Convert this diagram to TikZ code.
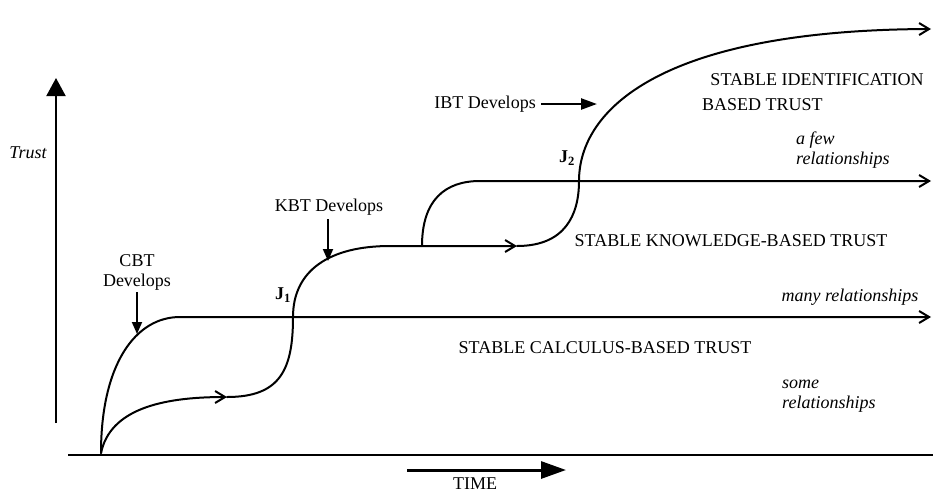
\documentclass[tikz,border=0pt]{standalone}
\usepackage{fontspec}
\setmainfont{Liberation Serif}
\usetikzlibrary{arrows.meta}
\begin{document}
\begin{tikzpicture}[x=1pt,y=-1pt,
  curve/.style={line width=2pt, line cap=round},
  barb/.style={-{Straight Barb[length=10pt,width=12pt]}},
  lbl/.style={font=\fontsize{18}{20}\selectfont, inner sep=0pt},
  ital/.style={font=\fontsize{18}{20}\selectfont\itshape, inner sep=0pt, align=left},
  ptr/.style={line width=1.8pt,-{Triangle[length=12pt,width=10pt]}},
]
\useasboundingbox (0,0) rectangle (933,496);
% key points
\coordinate (O) at (101,453);
\coordinate (a1) at (227,397);
\coordinate (J1) at (293,317);
\coordinate (kb) at (422,246);
\coordinate (k1) at (517,246);
\coordinate (J2) at (579,181);
\coordinate (cr) at (931,317);
\coordinate (kr) at (931,181);
\coordinate (ir) at (931,29);
\coordinate (yb) at (56,423);
\coordinate (yt) at (56,78);
\coordinate (xl) at (68,455);
\coordinate (xr) at (933,455);
% axes
\draw[line width=2pt, -{Triangle[length=18pt,width=19pt]}] (yb) -- (yt);
\draw[line width=2pt] (xl) -- (xr);
% CBT plateau
\draw[curve, barb] (O) .. controls (101,365) and (135,317) .. (180,317) -- (cr);
% lower path to J1, KBT, J2, IBT
\draw[curve, barb] (O) .. controls (110,410) and (160,397) .. (a1);
\draw[curve, barb] (a1) .. controls (280,397) and (293,370) .. (J1)
      .. controls (293,270) and (330,246) .. (390,246) -- (k1);
\draw[curve, barb] (k1) .. controls (565,246) and (579,215) .. (J2)
      .. controls (579,110) and (660,30) .. (ir);
% KBT plateau
\draw[curve, barb] (kb) .. controls (422,200) and (445,181) .. (480,181) -- (kr);
% labels and pointers
\node[lbl, align=center] (cbt) at (137,272) {CBT\\Develops};
\coordinate (cbts) at (137,292);
\coordinate (cbte) at (137,334);
\draw[ptr] (cbts) -- (cbte);
\node[lbl] (kbt) at (329,207) {KBT Develops};
\coordinate (kbts) at (328,219);
\coordinate (kbte) at (328,261);
\draw[ptr] (kbts) -- (kbte);
\node[lbl] (ibt) at (485,104) {IBT Develops};
\coordinate (ibts) at (541,104);
\coordinate (ibte) at (597,104);
\draw[line width=2.4pt,-{Triangle[length=16pt,width=11pt]}] (ibts) -- (ibte);
\node[lbl, font=\fontsize{18}{20}\selectfont\bfseries] (j1) at (283,295) {J\textsubscript{1}};
\node[lbl, font=\fontsize{18}{20}\selectfont\bfseries] (j2) at (567,158) {J\textsubscript{2}};
\node[lbl] (sit) at (817,80) {STABLE IDENTIFICATION};
\node[lbl, anchor=west] (bt) at (702,105) {BASED TRUST};
\node[ital, anchor=west] (few) at (796,150) {a few\\relationships};
\node[lbl] (skb) at (731,241) {STABLE KNOWLEDGE-BASED TRUST};
\node[ital] (many) at (850,297) {many relationships};
\node[lbl] (scb) at (605,348) {STABLE CALCULUS-BASED TRUST};
\node[ital, anchor=west] (some) at (782,396) {some\\relationships};
\node[ital] (trust) at (28,153) {Trust};
\coordinate (ts) at (407,470);
\coordinate (te) at (566,470);
\draw[line width=3pt, -{Triangle[length=25pt,width=17pt]}] (ts) -- (te);
\node[lbl] (time) at (475,484) {TIME};
\end{tikzpicture}
\end{document}
